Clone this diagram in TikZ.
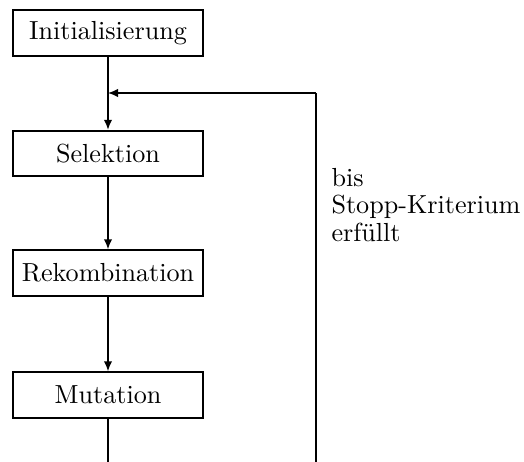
\documentclass[tikz,border=0pt]{standalone}
\usetikzlibrary{arrows.meta}
\begin{document}
\begin{tikzpicture}[x=0.4pt,y=-0.4pt,
  every node/.style={font=\fontsize{10.45pt}{10.9pt}\selectfont},
  box/.style={draw, line width=0.8pt, minimum width=75.6pt, minimum height=18.2pt, inner sep=0pt},
  conn/.style={line width=0.6pt, -{Latex[length=4pt,width=3.4pt]}},
  plain/.style={line width=0.6pt}]
\useasboundingbox (0,0) rectangle (524,461);
\node[box] (init) at (108,33) {Initialisierung};
\node[box] (sel) at (108,153.5) {Selektion};
\node[box] (rek) at (108,273) {Rekombination};
\node[box] (mut) at (108,395) {Mutation};
\coordinate (merge) at (108,93);
\coordinate (bot) at (108,462);
\coordinate (rb) at (316,462);
\coordinate (rt) at (316,93);
\draw[conn] (init.south) -- (sel.north);
\draw[conn] (rt) -- (merge);
\draw[conn] (sel) -- (rek);
\draw[conn] (rek) -- (mut);
\draw[plain] (mut) -- (bot);
\draw[plain] (rb) -- (rt);
\node[anchor=north west, align=left, inner sep=0pt] (lbl) at (331,168) {bis\\Stopp-Kriterium\\erfüllt};
\end{tikzpicture}
\end{document}
